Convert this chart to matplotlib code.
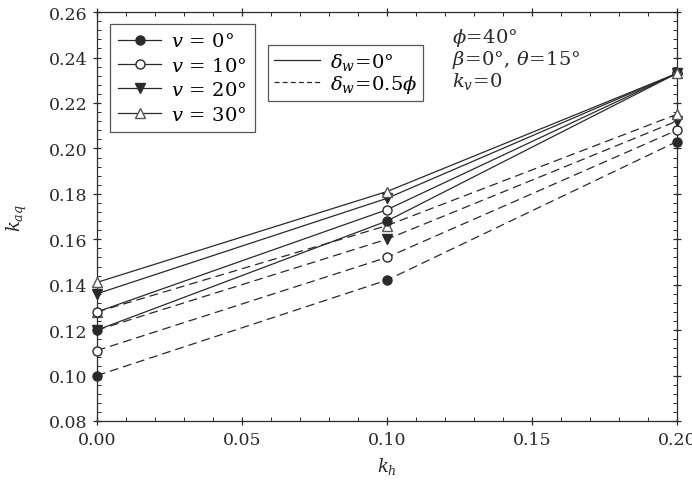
import matplotlib
matplotlib.use("Agg")
import matplotlib.pyplot as plt
from matplotlib.lines import Line2D
from matplotlib.ticker import MultipleLocator, FormatStrFormatter

plt.rcParams['font.family'] = 'DejaVu Serif'
plt.rcParams['mathtext.fontset'] = 'dejavuserif'

kh = [0.0, 0.1, 0.2]
v_labels = ['0', '10', '20', '30']

# delta_w = 0 (solid)
solid_v0 = [0.120, 0.168, 0.233]
solid_v10 = [0.128, 0.173, 0.233]
solid_v20 = [0.136, 0.178, 0.233]
solid_v30 = [0.141, 0.181, 0.233]

# delta_w = 0.5 phi (dashed)
dash_v0 = [0.100, 0.142, 0.203]
dash_v10 = [0.111, 0.152, 0.208]
dash_v20 = [0.120, 0.160, 0.212]
dash_v30 = [0.128, 0.166, 0.215]

solid = [solid_v0, solid_v10, solid_v20, solid_v30]
dashed = [dash_v0, dash_v10, dash_v20, dash_v30]

ink = '#2a2a2a'
styles = [
    dict(marker='o', mfc=ink, mec=ink),
    dict(marker='o', mfc='white', mec=ink),
    dict(marker='v', mfc=ink, mec=ink),
    dict(marker='^', mfc='white', mec='#555555'),
]

fig = plt.figure(figsize=(6.92, 4.81), dpi=100)
ax = fig.add_axes([0.140, 0.1227, 0.838, 0.850])

for ys, st in zip(dashed, styles):
    ax.plot(kh, ys, color=ink, lw=0.9, dashes=(7, 4), ms=6.5,
            clip_on=False, zorder=3, **st)
for ys, st in zip(solid, styles):
    ax.plot(kh, ys, color=ink, lw=0.9, ms=6.5, clip_on=False, zorder=4, **st)

ax.set_xlim(0, 0.2)
ax.set_ylim(0.08, 0.26)
ax.xaxis.set_major_locator(MultipleLocator(0.05))
ax.xaxis.set_minor_locator(MultipleLocator(0.01))
ax.yaxis.set_major_locator(MultipleLocator(0.02))
ax.yaxis.set_minor_locator(MultipleLocator(0.004))
ax.xaxis.set_major_formatter(FormatStrFormatter('%.2f'))
ax.yaxis.set_major_formatter(FormatStrFormatter('%.2f'))
ax.tick_params(which='major', direction='inout', length=6, width=0.9,
               top=True, right=True, labelsize=12.5, colors=ink, pad=4)
ax.tick_params(which='minor', direction='in', length=3, width=0.7,
               top=True, right=True, colors=ink)
for sp in ax.spines.values():
    sp.set_color(ink)
    sp.set_linewidth(0.9)

ax.set_xlabel(r'$k_h$', fontsize=13, color=ink, labelpad=5)
ax.set_ylabel(r'$k_{aq}$', fontsize=13, color=ink, labelpad=14)

h1 = [Line2D([], [], color=ink, lw=0.9, ms=6.5, **st) for st in styles]
l1 = [r'$v\,=\,%s°$' % v for v in v_labels]
leg1 = ax.legend(h1, l1, loc='upper left', bbox_to_anchor=(0.022, 0.972),
                 fontsize=14, frameon=True, fancybox=False, edgecolor=ink,
                 handlelength=2.2, borderpad=0.45, labelspacing=0.33,
                 handletextpad=0.5, borderaxespad=0)
leg1.get_frame().set_linewidth(0.9)
ax.add_artist(leg1)

h2 = [Line2D([], [], color=ink, lw=0.9),
      Line2D([], [], color=ink, lw=0.9, dashes=(4, 2.5))]
l2 = [r'$\delta_w\!=\!0°$', r'$\delta_w\!=\!0.5\phi$']
leg2 = ax.legend(h2, l2, loc='upper left', bbox_to_anchor=(0.295, 0.919),
                 fontsize=14, frameon=True, fancybox=False, edgecolor=ink,
                 handlelength=2.4, borderpad=0.3, labelspacing=0.05,
                 handletextpad=0.5, borderaxespad=0)
leg2.get_frame().set_linewidth(0.9)

ax.text(0.612, 0.965, '$\\phi\\!=\\!40°$\n$\\beta\\!=\\!0°,\\,\\theta\\!=\\!15°$\n$k_v\\!=\\!0$',
        transform=ax.transAxes, fontsize=14, color=ink, va='top', ha='left',
        linespacing=1.0)

fig.savefig('out.png', dpi=100)
